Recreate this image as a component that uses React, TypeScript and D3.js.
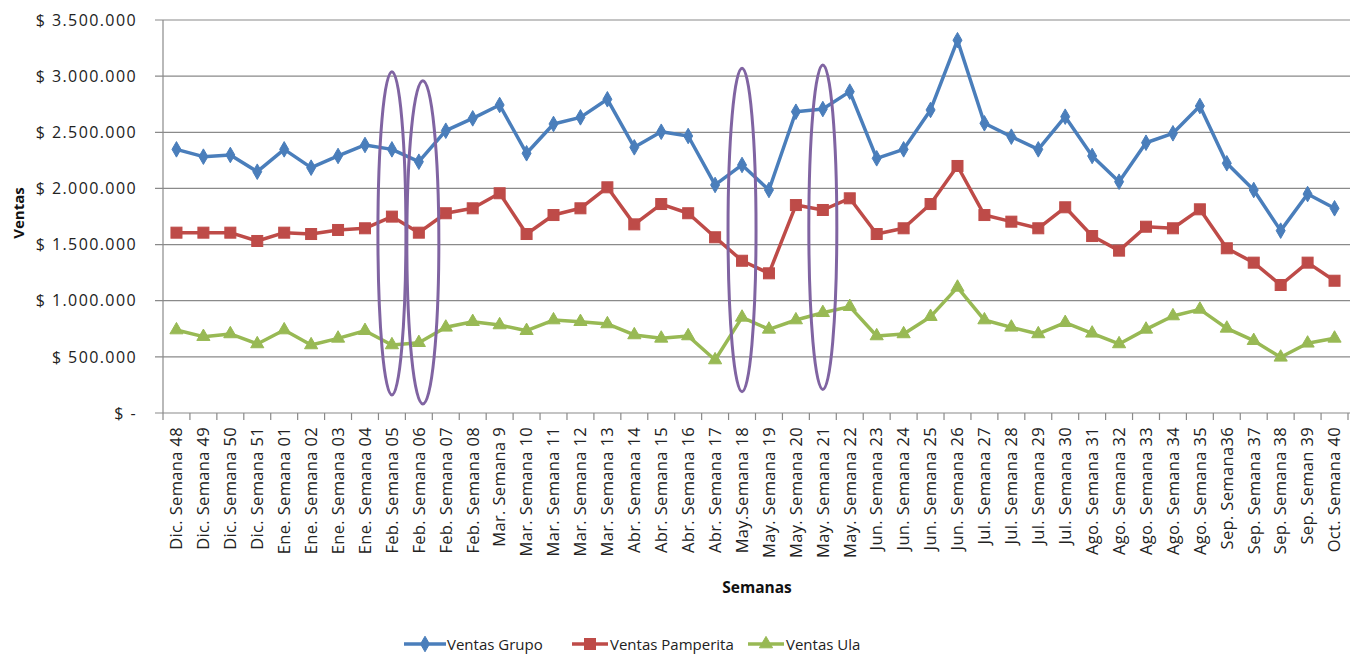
import React from "react";
import * as d3 from "d3";

const categories = [
  "Dic. Semana 48", "Dic. Semana 49", "Dic. Semana 50", "Dic. Semana 51",
  "Ene. Semana 01", "Ene. Semana 02", "Ene. Semana 03", "Ene. Semana 04",
  "Feb. Semana 05", "Feb. Semana 06", "Feb. Semana 07", "Feb. Semana 08",
  "Mar. Semana 9", "Mar. Semana 10", "Mar. Semana 11", "Mar. Semana 12", "Mar. Semana 13",
  "Abr. Semana 14", "Abr. Semana 15", "Abr. Semana 16", "Abr. Semana 17",
  "May.Semana 18", "May. Semana 19", "May. Semana 20", "May. Semana 21", "May. Semana 22",
  "Jun. Semana 23", "Jun. Semana 24", "Jun. Semana 25", "Jun. Semana 26",
  "Jul. Semana 27", "Jul. Semana 28", "Jul. Semana 29", "Jul. Semana 30",
  "Ago. Semana 31", "Ago. Semana 32", "Ago. Semana 33", "Ago. Semana 34", "Ago. Semana 35",
  "Sep. Semana36", "Sep. Semana 37", "Sep. Semana 38", "Sep. Seman 39", "Oct. Semana 40",
];

const ventasGrupo = [
  2348000, 2283000, 2298000, 2149000, 2348000, 2185000, 2289000, 2387000,
  2348000, 2238000, 2514000, 2624000, 2743000, 2313000, 2574000, 2633000, 2794000,
  2366000, 2505000, 2467000, 2031000, 2209000, 1986000, 2683000, 2707000, 2862000,
  2268000, 2348000, 2699000, 3320000, 2580000, 2461000, 2348000, 2639000,
  2289000, 2060000, 2407000, 2491000, 2734000, 2224000, 1986000, 1624000, 1950000, 1823000,
];

const ventasPamperita = [
  1606000, 1606000, 1606000, 1532000, 1606000, 1594000, 1630000, 1645000,
  1749000, 1606000, 1779000, 1823000, 1957000, 1594000, 1763000, 1823000, 2010000,
  1680000, 1861000, 1779000, 1565000, 1356000, 1244000, 1852000, 1808000, 1912000,
  1594000, 1645000, 1861000, 2200000, 1763000, 1704000, 1645000, 1832000,
  1576000, 1446000, 1659000, 1645000, 1814000, 1467000, 1339000, 1140000, 1339000, 1178000,
];

const ventasUla = [
  739000, 680000, 704000, 615000, 739000, 606000, 665000, 733000,
  606000, 626000, 763000, 813000, 784000, 733000, 828000, 813000, 793000,
  695000, 665000, 686000, 472000, 852000, 745000, 828000, 893000, 947000,
  686000, 704000, 858000, 1119000, 828000, 763000, 704000, 804000,
  710000, 615000, 745000, 864000, 923000, 754000, 644000, 496000, 621000, 665000,
];

const yTicks = [0, 500000, 1000000, 1500000, 2000000, 2500000, 3000000, 3500000];

// highlighted weeks (purple ellipses): category, top value, bottom value
const highlights = [
  { cat: "Feb. Semana 05", top: 3040000, bottom: 160000 },
  { cat: "Feb. Semana 06", top: 2960000, bottom: 80000 },
  { cat: "May.Semana 18", top: 3070000, bottom: 190000 },
  { cat: "May. Semana 21", top: 3100000, bottom: 210000 },
];

const series = [
  { name: "Ventas Grupo", values: ventasGrupo, color: "#4A7EBB", marker: "diamond" },
  { name: "Ventas Pamperita", values: ventasPamperita, color: "#BE4B48", marker: "square" },
  { name: "Ventas Ula", values: ventasUla, color: "#98B954", marker: "triangle" },
];

const FONT = "'Open Sans', 'Noto Sans', sans-serif";

function fmt(v: number) {
  if (v === 0) return "$ -";
  return "$ " + d3.format(",")(v).replace(/,/g, ".");
}

function Marker({ type, x, y, color }: { type: string; x: number; y: number; color: string }) {
  if (type === "diamond") {
    const s = d3.symbol(d3.symbolDiamond, 70)();
    return <path d={s || ""} transform={`translate(${x},${y})`} fill={color} stroke={color} strokeWidth={1} />;
  }
  if (type === "square") {
    return <rect x={x - 5.5} y={y - 5.5} width={11} height={11} fill={color} stroke={color} strokeWidth={1} />;
  }
  const t = d3.symbol(d3.symbolTriangle, 75)();
  return <path d={t || ""} transform={`translate(${x},${y})`} fill={color} stroke={color} strokeWidth={1} />;
}

export default function App() {
  const width = 1354;
  const height = 654;
  const x = d3.scaleBand<string>().domain(categories).range([163, 1348]).padding(0);
  const y = d3.scaleLinear().domain([0, 3500000]).range([413, 20]);
  const cx = (c: string) => (x(c) as number) + x.bandwidth() / 2;

  const line = d3
    .line<number>()
    .x((_, i) => cx(categories[i]))
    .y((d) => y(d));

  const legendItems = [
    { ...series[0], x0: 404, x1: 446, tx: 447 },
    { ...series[1], x0: 572, x1: 608, tx: 610 },
    { ...series[2], x0: 748, x1: 784, tx: 786 },
  ];

  return (
    <svg width={width} height={height} style={{ position: "absolute", left: 0, top: 0, background: "#fff" }}>
      <rect x={0} y={0} width={width} height={height} fill="#fff" />
      {/* gridlines */}
      {yTicks.map((t) => (
        <line key={"g" + t} x1={155} x2={1350} y1={y(t)} y2={y(t)} stroke="#8a8a8a" strokeWidth={1.2} />
      ))}
      {/* y axis */}
      <line x1={163} x2={163} y1={20} y2={413} stroke="#8a8a8a" strokeWidth={1.2} />
      {yTicks.map((t) => (
        <text key={"yl" + t} x={137} y={y(t)} dy="0.36em" textAnchor="end" fontFamily={FONT} fontSize={16} letterSpacing={1.4} fill="#222">
          {fmt(t)}
        </text>
      ))}
      <text
        transform={`translate(24,${213}) rotate(-90)`}
        textAnchor="middle"
        fontFamily={FONT}
        fontSize={15}
        fontWeight="bold"
        fill="#111"
      >
        Ventas
      </text>
      {/* x axis ticks */}
      {categories.map((c) => (
        <line key={"xt" + c} x1={x(c) as number} x2={x(c) as number} y1={413} y2={420} stroke="#8a8a8a" strokeWidth={1.2} />
      ))}
      <line x1={1348} x2={1348} y1={413} y2={420} stroke="#8a8a8a" strokeWidth={1.2} />
      {categories.map((c) => (
        <text
          key={"xl" + c}
          transform={`translate(${cx(c) + 5.8},427) rotate(-90)`}
          textAnchor="end"
          fontFamily={FONT}
          fontSize={16.5}
          letterSpacing={0.35}
          fill="#222"
        >
          {c}
        </text>
      ))}
      <text x={757} y={593} textAnchor="middle" fontFamily={FONT} fontSize={15.5} fontWeight="bold" fill="#111">
        Semanas
      </text>
      {/* series */}
      {series.map((s) => (
        <g key={s.name}>
          <path d={line(s.values) || ""} fill="none" stroke={s.color} strokeWidth={3.5} strokeLinejoin="round" />
          {s.values.map((v, i) => (
            <Marker key={i} type={s.marker} x={cx(categories[i])} y={y(v)} color={s.color} />
          ))}
        </g>
      ))}
      {/* highlight ellipses */}
      {highlights.map((h) => (
        <ellipse
          key={"e" + h.cat}
          cx={cx(h.cat) + (h.cat === "Feb. Semana 06" ? 4 : 0)}
          cy={(y(h.top) + y(h.bottom)) / 2}
          rx={h.cat === "Feb. Semana 06" ? 16 : 14}
          ry={(y(h.bottom) - y(h.top)) / 2}
          fill="none"
          stroke="#8064A2"
          strokeWidth={3}
        />
      ))}
      {/* legend */}
      {legendItems.map((l) => (
        <g key={"lg" + l.name}>
          <line x1={l.x0} x2={l.x1} y1={644} y2={644} stroke={l.color} strokeWidth={3.5} />
          <Marker type={l.marker} x={(l.x0 + l.x1) / 2} y={644} color={l.color} />
          <text x={l.tx} y={649.5} fontFamily={FONT} fontSize={15} fill="#222">
            {l.name}
          </text>
        </g>
      ))}
    </svg>
  );
}
